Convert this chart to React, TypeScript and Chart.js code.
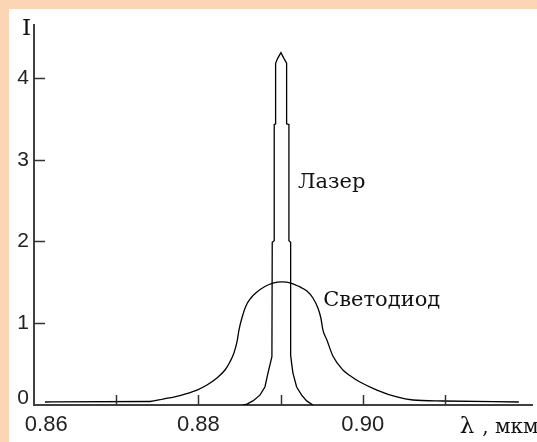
import React, { useEffect, useRef } from "react";
import { Chart, registerables } from "chart.js";

Chart.register(...registerables);

// Светодиод (LED) spectrum: wavelength (мкм) and intensity
const ledWavelength = [
  0.86134, 0.87411, 0.87569, 0.87776, 0.87983, 0.88105, 0.88226, 0.88324, 0.88384, 0.88433,
  0.8847, 0.88494, 0.8853, 0.88579, 0.8864, 0.88713, 0.8881, 0.88908, 0.89017, 0.89127,
  0.89224, 0.89321, 0.89394, 0.89455, 0.89491, 0.89516, 0.89564, 0.89637, 0.89759, 0.89869,
  0.89966, 0.90173, 0.90416, 0.90611, 0.90976, 0.919,
];
const ledIntensity = [
  0.037, 0.043, 0.073, 0.116, 0.183, 0.245, 0.33, 0.428, 0.526, 0.636,
  0.771, 0.917, 1.064, 1.211, 1.309, 1.382, 1.45, 1.492, 1.505, 1.492,
  1.45, 1.394, 1.309, 1.187, 1.064, 0.917, 0.795, 0.599, 0.428, 0.343,
  0.281, 0.183, 0.098, 0.061, 0.049, 0.037,
];

// Лазер (laser) spectrum
const laserWavelength = [
  0.88543, 0.88591, 0.88664, 0.88749, 0.8881, 0.88847, 0.88895, 0.88899, 0.88923, 0.88923,
  0.8894, 0.8894, 0.88965, 0.89005, 0.89041, 0.89074, 0.89074, 0.89102, 0.89102, 0.89123,
  0.89123, 0.89135, 0.89151, 0.89196, 0.89257, 0.89318, 0.89394,
];
const laserIntensity = [
  0.0, 0.01, 0.05, 0.12, 0.22, 0.39, 0.59, 1.99, 2.01, 3.43,
  3.44, 4.18, 4.24, 4.31, 4.24, 4.18, 3.44, 3.43, 2.01, 1.99,
  0.61, 0.51, 0.39, 0.22, 0.12, 0.05, 0.0,
];

const xMin = 0.86;
const xMax = 0.9206;
const yMin = 0;
const yMax = 4.648;
const xMarkValues = [0.87, 0.88, 0.89, 0.9, 0.91];
const xLabelValues = [0.86, 0.88, 0.9];
const yMarkValues = [1, 2, 3, 4];

const laserName = "Лазер";
const ledName = "Светодиод";
const yAxisTitle = "I";
const xAxisSymbol = "λ";
const xAxisUnit = ", мкм";

const laserLabelAt = { x: 0.89212, y: 2.65 };
const ledLabelAt = { x: 0.89519, y: 1.215 };
const xTitleAt = 0.9118;

export default function App() {
  const canvasRef = useRef<HTMLCanvasElement>(null);

  useEffect(() => {
    const toXY = (xs: number[], ys: number[]) => xs.map((x, i) => ({ x, y: ys[i] }));

    const decorations = {
      id: "decorations",
      afterDraw(chart: any) {
        const { ctx, chartArea, scales } = chart;
        const xs = scales.x;
        const ys = scales.y;
        ctx.save();
        // inward tick marks
        ctx.strokeStyle = "#333";
        ctx.lineWidth = 1.5;
        xMarkValues.forEach((v) => {
          const px = Math.round(xs.getPixelForValue(v)) + 0.5;
          ctx.beginPath();
          ctx.moveTo(px, chartArea.bottom);
          ctx.lineTo(px, chartArea.bottom - 10);
          ctx.stroke();
        });
        yMarkValues.forEach((v) => {
          const py = Math.round(ys.getPixelForValue(v)) + 0.5;
          ctx.beginPath();
          ctx.moveTo(chartArea.left, py);
          ctx.lineTo(chartArea.left + 11, py);
          ctx.stroke();
        });
        // texts
        ctx.fillStyle = "#111";
        ctx.textBaseline = "alphabetic";
        ctx.textAlign = "left";
        ctx.font = '21px "DejaVu Serif"';
        ctx.fillText(laserName, xs.getPixelForValue(laserLabelAt.x), ys.getPixelForValue(laserLabelAt.y));
        ctx.fillText(ledName, xs.getPixelForValue(ledLabelAt.x), ys.getPixelForValue(ledLabelAt.y));
        ctx.font = '23px "DejaVu Serif"';
        ctx.fillText(yAxisTitle, chartArea.left - 12, chartArea.top + 10);
        const tx = xs.getPixelForValue(xTitleAt);
        const ty = chartArea.bottom + 28;
        ctx.font = '23px "DejaVu Serif"';
        ctx.fillText(xAxisSymbol, tx, ty);
        const w = ctx.measureText(xAxisSymbol).width;
        ctx.font = '20px "DejaVu Serif"';
        ctx.fillText(xAxisUnit, tx + w + 8, ty);
        ctx.restore();
      },
    };

    const chart = new Chart(canvasRef.current as HTMLCanvasElement, {
      type: "scatter",
      data: {
        datasets: [
          {
            label: laserName,
            data: toXY(laserWavelength, laserIntensity),
            showLine: true,
            borderColor: "#000",
            borderWidth: 1.3,
            pointRadius: 0,
            tension: 0,
            fill: false,
          },
          {
            label: ledName,
            data: toXY(ledWavelength, ledIntensity),
            showLine: true,
            borderColor: "#000",
            borderWidth: 1.3,
            pointRadius: 0,
            cubicInterpolationMode: "monotone",
            fill: false,
          },
        ],
      },
      options: {
        animation: false,
        responsive: false,
        maintainAspectRatio: false,
        layout: { padding: { top: 16, right: 5, left: 0, bottom: 0 } },
        plugins: { legend: { display: false }, tooltip: { enabled: false } },
        scales: {
          x: {
            type: "linear",
            min: xMin,
            max: xMax,
            grid: { display: false, drawTicks: false },
            border: { display: true, color: "#404040", width: 2 },
            ticks: {
              stepSize: 0.01,
              includeBounds: false,
              autoSkip: false,
              maxRotation: 0,
              padding: 7,
              color: "#222",
              font: { family: '"Liberation Sans", Arial', size: 22 },
              callback: (v: any) => {
                const val = Number(v);
                const hit = xLabelValues.find((t) => Math.abs(t - val) < 1e-6);
                if (hit === undefined) return "";
                const s = hit.toFixed(2);
                return hit === xMin ? "    " + s : s;
              },
            },
            afterFit: (s: any) => {
              s.height = 37;
              s.paddingLeft = 0;
              s.paddingRight = 0;
            },
          },
          y: {
            type: "linear",
            min: yMin,
            max: yMax,
            grid: { display: false, drawTicks: false },
            border: { display: true, color: "#404040", width: 2 },
            ticks: {
              stepSize: 1,
              includeBounds: false,
              padding: 5,
              color: "#222",
              font: { family: '"Liberation Sans", Arial', size: 21, lineHeight: 0.64 },
              callback: (v: any) => (Number(v) === 0 ? ["0", ""] : String(v)),
            },
            afterFit: (s: any) => {
              s.width = 25;
              s.paddingTop = 0;
              s.paddingBottom = 0;
            },
          },
        },
      },
      plugins: [decorations],
    });
    return () => chart.destroy();
  }, []);

  return (
    <div
      style={{
        position: "fixed",
        left: 0,
        top: 0,
        width: 537,
        height: 442,
        background: "#FCD5B4",
        overflow: "hidden",
      }}
    >
      <canvas
        ref={canvasRef}
        width={528}
        height={433}
        style={{ position: "absolute", left: 9, top: 9, width: 528, height: 433, background: "#fff", display: "block" }}
      />
    </div>
  );
}
